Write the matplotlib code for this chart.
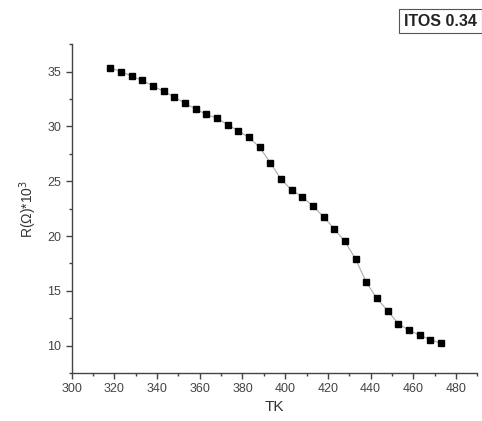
import matplotlib.pyplot as plt
from matplotlib.ticker import MultipleLocator

plt.rcParams['font.family'] = ['Liberation Sans', 'DejaVu Sans']

# temperature (K) and resistance (ohm * 10^3)
temp = [318, 323, 328, 333, 338, 343, 348, 353, 358, 363, 368, 373, 378, 383, 388, 393,
        398, 403, 408, 413, 418, 423, 428, 433, 438, 443, 448, 453, 458, 463, 468, 473]
res = [35.35, 35.0, 34.6, 34.2, 33.7, 33.2, 32.7, 32.1, 31.6, 31.1, 30.75, 30.15, 29.6, 29.0, 28.1, 26.7,
       25.2, 24.2, 23.55, 22.75, 21.75, 20.65, 19.5, 17.9, 15.8, 14.3, 13.2, 12.0, 11.4, 10.95, 10.55, 10.2]

fig = plt.figure(figsize=(4.82, 4.21), dpi=100)
ax = fig.add_axes([0.149, 0.114, 0.841, 0.781])

ax.plot(temp, res, color='#aaaaaa', lw=0.8, zorder=1)
ax.plot(temp, res, ls='none', marker='s', ms=4.5, color='black', zorder=2)

ax.set_xlim(300, 490)
ax.set_ylim(7.5, 37.5)
ax.xaxis.set_major_locator(MultipleLocator(20))
ax.xaxis.set_minor_locator(MultipleLocator(10))
ax.yaxis.set_major_locator(MultipleLocator(5))
ax.yaxis.set_minor_locator(MultipleLocator(2.5))
ax.set_xticks(range(300, 481, 20))

for s in ['top', 'right']:
    ax.spines[s].set_visible(False)
for s in ['left', 'bottom']:
    ax.spines[s].set_color('#444444')
    ax.spines[s].set_linewidth(1.0)

ax.tick_params(which='major', length=4, width=1, color='#444444', labelsize=9, labelcolor='#444444')
ax.tick_params(which='minor', length=2.5, width=1, color='#444444')

ax.set_xlabel('TK', fontsize=11, color='#333333', labelpad=3)
ax.set_ylabel('R(Ω)*10$^3$', fontsize=10, color='#333333', labelpad=6)

fig.text(0.838, 0.95, 'ITOS 0.34', ha='left', va='center', fontsize=11.5,
         color='#222222', fontweight='semibold',
         bbox=dict(boxstyle='square,pad=0.3', fc='white', ec='#555555', lw=0.8))

fig.savefig('out.png', dpi=100)
